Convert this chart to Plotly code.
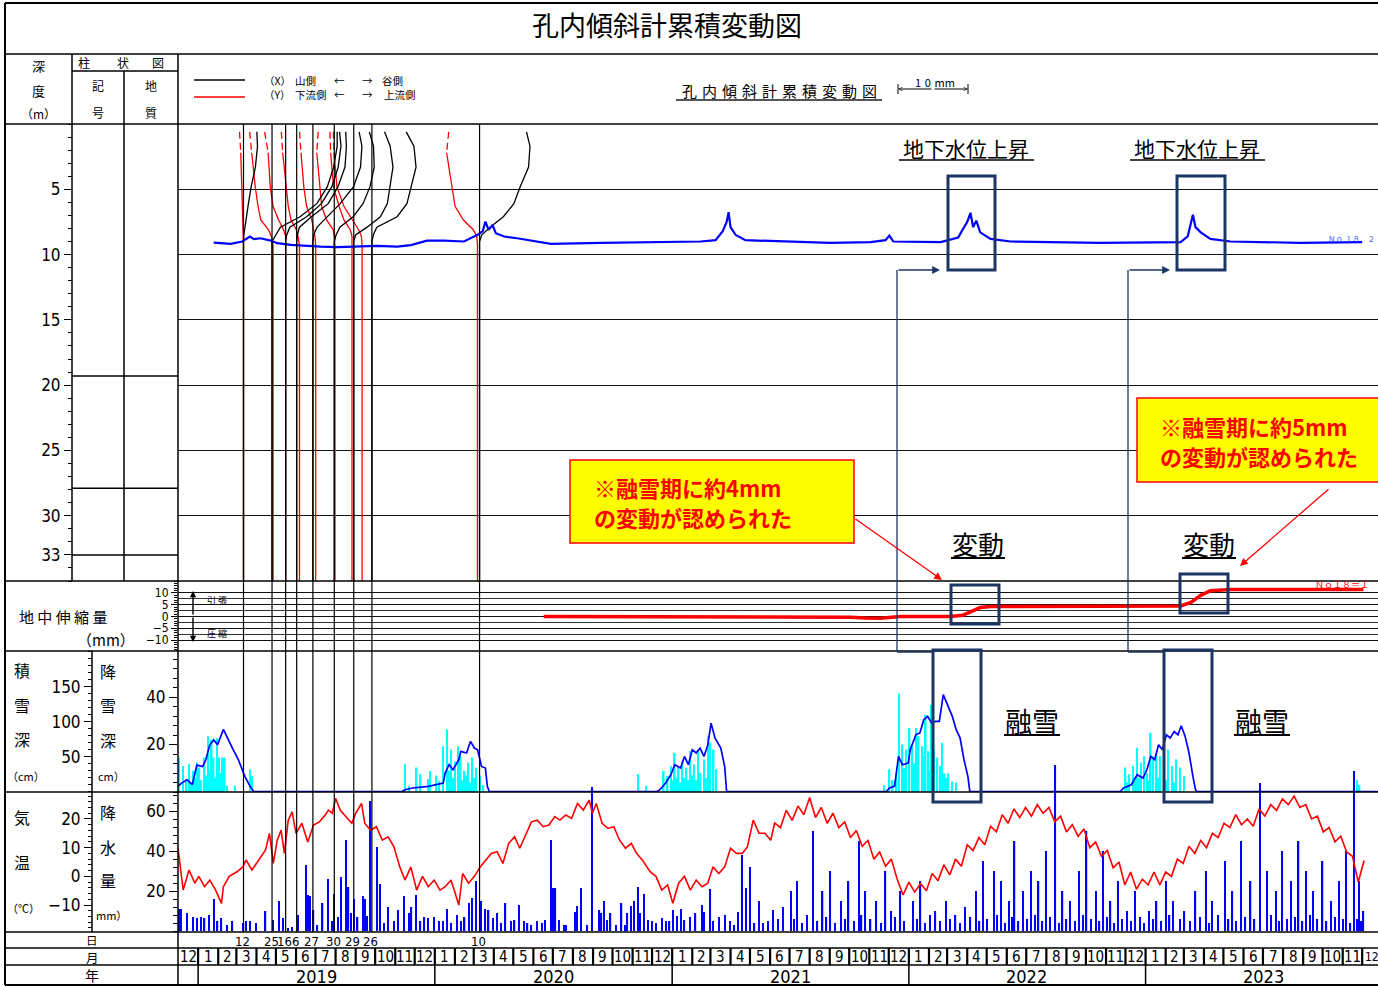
import pandas as pd
import plotly.graph_objects as go

W, H = 1378, 986
JP = "Noto Sans CJK JP"
NUM = "Liberation Sans Narrow, DejaVu Sans Condensed, Arial Narrow, sans-serif"
NAVY = "#1c3565"
BASE = pd.Timestamp("2018-12-01")
X_SPAN_DAYS = 1850.4
DAYS_PER_MM = 10.8  # inclinometer scale: 10 mm bar = 108 days of the time axis

# ---------------- inclinometer measurements ----------------
MEAS_DATES = ["2019-03-12", "2019-04-25", "2019-05-16", "2019-06-02", "2019-06-27",
              "2019-07-30", "2019-08-29", "2019-09-26", "2020-03-10"]
MEAS_DAY_LABELS = ["12", "25", "16", "6", "27", "30", "29", "26", "10"]

X_DEPTH = [0.6, 1.7, 3.3, 4.8, 6.1, 7.1, 7.9, 8.5, 9.0, 35.0]
X_DISP = [
    [1.9, 2.0, 1.7, 1.1, 0.7, 0.4, 0.15, 0.05, 0, 0],
    [9.3, 9.3, 8.8, 7.9, 6.4, 4.0, 1.2, 0.5, 0, 0],
    [7.7, 7.9, 7.5, 6.6, 5.1, 3.0, 0.6, 0.15, 0, 0],
    [7.0, 7.1, 6.9, 5.9, 4.5, 2.1, 0.4, 0.1, 0, 0],
    [6.6, 7.0, 6.8, 5.8, 3.9, 2.0, 0.6, 0.1, 0, 0],
    [5.0, 5.6, 5.7, 5.1, 4.1, 2.7, 0.8, 0.25, 0, 0],
    [4.4, 5.2, 5.6, 5.2, 4.8, 3.8, 1.9, 0.25, 0, 0],
    [4.9, 6.0, 6.3, 5.6, 5.0, 3.6, 0.7, 0.2, 0, 0],
    [6.7, 7.2, 7.0, 5.8, 4.9, 3.4, 1.5, 0.3, 0, 0],
]
Y_DEPTH = [0.6, 2.2, 4.8, 6.3, 7.35, 8.1, 8.6, 9.3, 35.0]
Y_DISP = [
    [-0.57, -0.39, -0.24, -0.14, -0.1, -0.04, 0, 0, 0],
    [-3.2, -2.9, -2.4, -2.0, -1.6, -0.5, -0.1, 0.15, 0.15],
    [-3.0, -2.5, -2.2, -1.8, -1.0, -0.3, 0, 0, 0],
    [-2.2, -2.0, -1.5, -1.2, -0.8, -0.05, 0.2, 0.4, 0.4],
    [-1.9, -1.7, -1.3, -0.9, -0.15, 0.1, 0.3, 0.4, 0.4],
    [-2.3, -2.5, -2.0, -1.8, -1.1, -0.15, 0, 0.1, 0.1],
    [-3.4, -3.3, -2.9, -2.1, -1.4, -0.5, -0.25, -0.25, -0.25],
    [-5.5, -5.4, -5.0, -4.0, -2.8, -1.9, -1.5, -1.4, -1.4],
    [-4.4, -4.7, -4.0, -3.5, -2.3, -0.9, -0.4, -0.3, -0.3],
]
Y_DASH_NODES = 2  # upper part of each Y profile is dashed

GRID_DEPTHS = [5, 10, 15, 20, 25, 30]
DEPTH_TICKS = [5, 10, 15, 20, 25, 30, 33]
LAYER_BOUNDS = [19.3, 27.9, 33.0]

# ---------------- groundwater level (depth m), days since 2018-12-01 ----------------
GW_DAY = [55, 81, 99, 111, 117, 127, 143, 153, 174, 194,
          220, 246, 276, 307, 338, 359, 384, 410, 441, 462,
          470, 474, 479, 485, 490, 503, 523, 554, 575, 652,
          729, 806, 829, 840, 846, 849, 852, 860, 875, 929,
          1006, 1068, 1091, 1097, 1103, 1176, 1203, 1211, 1217, 1222,
          1226, 1231, 1237, 1253, 1284, 1422, 1546, 1557, 1562, 1565,
          1569, 1577, 1592, 1623, 1731, 1792, 1826]
GW_DEPTH = [9.08, 9.18, 9.0, 8.62, 8.82, 8.75, 8.93, 9.13, 9.26, 9.33,
            9.39, 9.43, 9.39, 9.33, 9.39, 9.28, 8.93, 8.93, 9.0, 8.49,
            8.2, 7.47, 8.11, 7.73, 8.36, 8.62, 8.75, 9.0, 9.18, 9.1,
            9.05, 9.0, 8.9, 8.2, 7.5, 6.75, 7.9, 8.5, 8.9, 9.0,
            9.1, 9.05, 8.9, 8.55, 9.0, 9.05, 8.7, 8.0, 7.5, 6.8,
            7.9, 7.4, 8.3, 8.8, 9.0, 9.1, 9.05, 8.6, 7.6, 6.95,
            7.9, 8.3, 8.8, 9.0, 9.1, 9.1, 9.05]

# ---------------- ground extensometer (mm) ----------------
EXT_DAY = [564, 700, 850, 1000, 1037, 1060, 1083, 1114, 1191, 1210,
           1222, 1237, 1253, 1422, 1546, 1562, 1577, 1592, 1623, 1828]
EXT_MM = [0, 0, 0, 0, -0.3, -0.6, -0.7, 0, 0, 0.5,
          2, 3.8, 4.2, 4.3, 4.5, 6, 9, 11, 11.5, 11.5]

# ---------------- snow depth (cm) ----------------
SD_DAY = [0, 5, 14, 22, 29, 38, 43, 49, 55, 61, 70, 76, 85, 93, 100, 103, 111, 117,
          345, 350, 362, 386, 409, 412, 418, 424, 433, 436, 445, 451, 457, 462, 468, 474, 477, 480,
          738, 743, 752, 760, 766, 775, 781, 787, 793, 799, 805, 811, 817, 822, 828, 837, 843, 846,
          1092, 1097, 1105, 1111, 1117, 1126, 1129, 1138, 1144, 1150, 1156, 1162, 1168, 1174, 1180,
          1188, 1194, 1200, 1206, 1212, 1218, 1221,
          1453, 1458, 1470, 1479, 1488, 1494, 1500, 1506, 1512, 1518, 1524, 1530, 1536, 1542, 1547,
          1553, 1559, 1565, 1569, 1571, 1850]
SD_CM = [7.6, 12, 17, 10, 38, 36, 46, 67, 74, 67, 89, 77, 60, 46, 27, 22, 8, 0,
         0, 2.9, 5.3, 7.6, 12.4, 26.7, 38.6, 31.4, 45.7, 57.6, 55.3, 71.9, 62.4, 60, 36.1, 33.9, 7.6, 0,
         0, 2.9, 12.4, 24.3, 38.6, 33.9, 50.4, 38.6, 60, 55.3, 62.4, 50.4, 67, 98, 76.7, 62.4, 36, 0,
         0, 5.3, 8, 50.4, 38.6, 41, 60, 81.4, 83.9, 102.9, 107.6, 98.1, 100.4, 100.4, 138.6,
         119.6, 107.6, 88.6, 76.7, 45.7, 21.9, 0,
         0, 5.3, 10, 24.3, 19.6, 31.4, 50.4, 45.7, 67, 60, 81.4, 76.7, 86, 81.4, 94.3,
         79, 55.3, 21.9, 2.9, 0, 0]

# ---------------- daily snowfall (cm) ----------------
SF_DAY = [2, 8, 13, 17, 20, 23, 26, 29, 33, 36,
          41, 44, 46, 50, 52, 55, 58, 60, 63, 65,
          68, 70, 72, 76, 88, 111, 114,
          350, 356, 368, 374, 386, 389, 398, 403, 409, 415,
          418, 421, 424, 427, 432, 436, 439, 442, 445, 448,
          451, 454, 457, 460, 466, 471,
          710, 722, 749, 755, 760, 763, 766, 769, 772, 775,
          778, 781, 784, 787, 790, 793, 796, 799, 802, 806,
          811, 814, 817, 821, 826, 830,
          1089, 1097, 1102, 1108, 1112, 1117, 1120, 1123, 1128, 1132,
          1135, 1138, 1142, 1147, 1150, 1153, 1157, 1160, 1162, 1166,
          1171, 1175, 1178, 1182, 1185, 1188, 1194, 1200,
          1461, 1464, 1467, 1473, 1476, 1479, 1482, 1485, 1490, 1494,
          1497, 1500, 1504, 1509, 1512, 1515, 1521, 1524, 1527, 1533,
          1536, 1539, 1545, 1551, 1818, 1822]
SF_CM = [14.5, 11, 5.4, 11.7, 4, 8.9, 6, 12.4, 10.3, 5,
         14.5, 7, 23.5, 9, 22, 14.5, 6, 22.8, 14.5, 8,
         14.5, 5, 14.5, 2.6, 2.6, 9.6, 6.8,
         11.7, 2.6, 10.3, 7.5, 5.4, 8.8, 7, 4.6, 19.3, 26.3,
         9, 17.9, 6, 13, 19.3, 15.1, 5, 8.9, 7, 12.4,
         4, 14.5, 6, 10.3, 6.8, 3,
         7.5, 2.6, 8.8, 6.8, 11, 5, 16.5, 6, 11, 4,
         13, 6, 10.3, 5, 17.2, 7, 11.7, 5, 17.9, 8,
         13.8, 6, 23.5, 20.8, 17.9, 9.6,
         3, 9.6, 5, 7.9, 41.5, 20, 10, 17.9, 27, 19.3,
         12, 27, 23.5, 19.3, 15, 32.5, 17.2, 9, 36.7, 17.9,
         14.5, 11, 20.8, 7.9, 6, 7.9, 4.4, 4,
         10.3, 4, 7.5, 11, 5, 18.6, 6, 12.4, 15.1, 7.9,
         5, 24.9, 15.1, 15.8, 6, 15.1, 11.7, 5, 17.9, 11,
         4, 13.8, 10.3, 6.8, 5, 3]

# ---------------- daily precipitation (mm) ----------------
PR_DAY = [2, 5, 14, 23, 29, 35, 41, 48, 55, 61,
          67, 76, 84, 101, 105, 111, 120, 135, 147, 156,
          162, 170, 176, 185, 197, 200, 203, 209, 215, 223,
          231, 237, 241, 247, 251, 259, 263, 267, 271, 277,
          285, 288, 291, 297, 307, 311, 318, 324, 333, 339,
          349, 356, 360, 367, 374, 380, 386, 395, 403, 409,
          415, 421, 430, 436, 442, 449, 454, 460, 467, 474,
          479, 486, 492, 498, 505, 513, 519, 526, 533, 539,
          545, 554, 561, 566, 575, 578, 582, 588, 595, 598,
          612, 615, 622, 631, 638, 650, 653, 657, 661, 667,
          675, 684, 690, 693, 699, 703, 709, 713, 719, 725,
          731, 737, 746, 752, 758, 763, 769, 776, 781, 790,
          798, 808, 811, 821, 825, 834, 843, 851, 858, 864,
          870, 876, 882, 889, 896, 902, 910, 917, 925, 933,
          945, 950, 955, 962, 970, 979, 986, 994, 1000, 1006,
          1013, 1022, 1028, 1034, 1042, 1050, 1054, 1060, 1068, 1077,
          1084, 1091, 1099, 1106, 1114, 1120, 1133, 1139, 1145, 1152,
          1160, 1168, 1175, 1184, 1190, 1199, 1206, 1214, 1222, 1230,
          1236, 1241, 1248, 1258, 1263, 1269, 1275, 1281, 1286, 1290,
          1296, 1303, 1309, 1315, 1321, 1327, 1333, 1339, 1345, 1353,
          1358, 1364, 1370, 1376, 1383, 1389, 1395, 1401, 1408, 1416,
          1421, 1426, 1432, 1438, 1444, 1450, 1456, 1463, 1470, 1476,
          1484, 1490, 1497, 1503, 1509, 1516, 1523, 1529, 1534, 1545,
          1552, 1560, 1569, 1576, 1585, 1590, 1595, 1604, 1614, 1620,
          1626, 1632, 1639, 1646, 1654, 1660, 1669, 1679, 1686, 1693,
          1698, 1703, 1710, 1716, 1722, 1728, 1734, 1739, 1745, 1750,
          1757, 1765, 1771, 1778, 1784, 1790, 1796, 1801, 1808, 1813,
          1818, 1821, 1825, 1828]
PR_MM = [11, 11, 9, 7, 6.5, 7, 6.5, 8, 16, 5,
         6.5, 3, 5, 4, 5, 5, 4, 10, 5.5, 15,
         6.5, 1.5, 2, 8, 33, 18, 17.5, 10.5, 3, 14,
         26, 5, 18.5, 7, 27, 45.5, 22, 9, 16, 7,
         17.5, 16, 7.5, 65, 42, 23.5, 4, 12, 5, 10.5,
         17.5, 9, 12, 18, 5, 7, 6.5, 7, 5, 5,
         11, 4, 8, 5, 7, 14, 16.5, 25, 15, 11,
         10.5, 6.5, 9, 4, 14, 5, 5.5, 13, 5, 4,
         3, 5, 4, 5.5, 45.5, 21.5, 21.5, 5.5, 3, 3,
         9.5, 12.5, 21.5, 3, 72, 10.5, 9, 15, 5.5, 9,
         3, 14, 3, 9, 12.5, 15, 22, 9, 18.5, 5.5,
         5, 4, 6.5, 5, 5, 10.5, 7.5, 11, 5.5, 7,
         9, 13, 9.5, 21, 5, 7, 8, 5, 3, 9.5,
         38, 21.5, 32, 4, 15, 4, 5, 10.5, 6, 12,
         20, 6, 25, 4, 8, 50, 5, 20, 7, 30,
         4, 15, 6, 25, 5, 45, 8, 20, 6, 15,
         4, 30, 10, 7, 20, 5, 15, 6, 25, 4,
         8, 10, 5, 15, 6, 8, 4, 12, 7, 20,
         5, 35, 6, 30, 8, 25, 4, 15, 7, 45,
         5, 20, 6, 30, 8, 25, 5, 40, 7, 83,
         4, 20, 6, 15, 5, 30, 8, 50, 6, 20,
         5, 40, 7, 15, 4, 25, 6, 10, 5, 20,
         7, 4, 10, 6, 15, 5, 25, 8, 15, 6,
         10, 5, 20, 7, 30, 4, 15, 8, 35, 6,
         20, 5, 45, 7, 25, 6, 74, 30, 8, 20,
         5, 40, 6, 25, 7, 45, 5, 30, 8, 20,
         6, 35, 5, 15, 7, 25, 6, 40, 4, 80,
         6, 25, 5, 10]

# ---------------- air temperature (deg C) ----------------
TEMP_DAY = [0, 8, 17, 26, 32, 41, 49, 58, 67, 70,
            79, 91, 100, 105, 114, 123, 135, 141, 147, 153,
            159, 164, 170, 176, 182, 191, 200, 209, 218, 227,
            232, 238, 243, 250, 259, 268, 274, 283, 288, 297,
            306, 315, 324, 333, 342, 350, 359, 368, 377, 386,
            395, 404, 412, 421, 433, 439, 448, 457, 466, 474,
            483, 492, 501, 510, 519, 527, 536, 545, 554, 563,
            572, 581, 589, 598, 607, 616, 625, 634, 639, 645,
            654, 663, 672, 681, 690, 699, 707, 716, 728, 737,
            746, 755, 763, 772, 781, 790, 799, 808, 817, 825,
            834, 843, 852, 861, 870, 878, 887, 896, 905, 914,
            920, 929, 938, 947, 956, 965, 974, 983, 992, 1001,
            1010, 1019, 1028, 1037, 1046, 1055, 1064, 1073, 1082, 1091,
            1100, 1109, 1118, 1127, 1136, 1145, 1154, 1163, 1172, 1181,
            1190, 1199, 1208, 1217, 1226, 1235, 1244, 1253, 1262, 1271,
            1280, 1289, 1298, 1307, 1316, 1325, 1334, 1343, 1352, 1361,
            1370, 1379, 1388, 1397, 1406, 1415, 1424, 1433, 1442, 1451,
            1460, 1469, 1478, 1487, 1496, 1505, 1514, 1523, 1532, 1541,
            1550, 1559, 1568, 1577, 1586, 1595, 1604, 1613, 1622, 1631,
            1640, 1649, 1658, 1667, 1676, 1685, 1694, 1703, 1712, 1721,
            1730, 1739, 1748, 1757, 1766, 1775, 1784, 1793, 1802, 1811,
            1820, 1829]
TEMP_C = [9.8, -4.8, 2.2, -2.4, 0, -3.6, -1.3, -4.8, -9.4, -3.6,
          0, 1.6, 3.3, 5.7, 2.2, 5.1, 9.2, 15, 4.5, 12.6,
          16.1, 8, 19.6, 22.5, 15, 18.5, 12, 17.9, 19, 21.4,
          23.1, 22, 27.2, 23.1, 20.8, 18.5, 22, 25.4, 18.5, 16.1,
          17.3, 12.6, 13.8, 10.3, 3.3, -1.3, 3.3, -4.8, 0, -3.6,
          -1.3, -4.8, -3.6, -1.3, -10, 1, -2.4, 0, 3.3, 5.7,
          8, 8.6, 4.5, 11.5, 13.8, 9.8, 14.4, 19, 19.6, 17.3,
          17.9, 20.8, 19.6, 21.4, 20.2, 25.4, 23.1, 26.6, 22, 25.4,
          18.5, 16.7, 17.3, 12.6, 9.8, 11.5, 8, 5.7, 1.6, 0,
          -4.8, -3, -9.4, -2.4, 0, -4.8, -1.3, -3.6, -2.4, 3.3,
          1, 3.3, 9.8, 8, 8, 10.3, 19.6, 15, 15, 12.6,
          18.6, 17, 23, 19.5, 24.5, 21.5, 27.5, 20.5, 24, 18.5,
          22, 17, 19, 13.5, 16, 10.5, 12.5, 6, 8.5, 3.5,
          6, -1, -6.5, -2, -5.5, -2.5, -5, 1, -1.5, 4,
          0.5, 6, 3.5, 11, 9, 13.5, 11, 17.5, 15.5, 21.5,
          18.5, 23.5, 20.5, 24, 21, 25, 22, 24, 19, 21,
          15.5, 18, 14, 16.5, 10, 12, 7, 9, 3, 5,
          -3, 1.5, -4.5, -1, -3, 1.5, -3, 1.5, 0, 6,
          4.5, 10.5, 8, 12.5, 10, 15, 13.5, 18.5, 17, 21.5,
          18, 20, 17.5, 23.5, 21, 25, 23, 27, 25, 28,
          24, 25, 20, 21, 15.5, 17, 12, 14, 8.5, 7,
          -2, 5.5]

assert len(GW_DAY) == len(GW_DEPTH)
assert len(SD_DAY) == len(SD_CM)
assert len(SF_DAY) == len(SF_CM)
assert len(PR_DAY) == len(PR_MM)
assert len(EXT_DAY) == len(EXT_MM)
assert len(TEMP_DAY) == len(TEMP_C)


def T(d):
    return BASE + pd.to_timedelta(d, unit="D")


def PX(x):
    return x / W


def PY(y):
    return 1 - y / H


meas_ts = [pd.Timestamp(d) for d in MEAS_DATES]

# ---------- build profile polylines ----------
bx, by = [], []
for t, disp in zip(meas_ts, X_DISP):
    for dep, v in zip(X_DEPTH, disp):
        bx.append(t + pd.to_timedelta(v * DAYS_PER_MM, unit="D"))
        by.append(dep)
    bx.append(None)
    by.append(None)
rsx, rsy, rdx, rdy = [], [], [], []
for t, disp in zip(meas_ts, Y_DISP):
    for i, (dep, v) in enumerate(zip(Y_DEPTH, disp)):
        xv = t + pd.to_timedelta(v * DAYS_PER_MM, unit="D")
        if i < Y_DASH_NODES:
            rdx.append(xv)
            rdy.append(dep)
        if i >= Y_DASH_NODES - 1:
            rsx.append(xv)
            rsy.append(dep)
    rdx.append(None); rdy.append(None)
    rsx.append(None); rsy.append(None)

fig = go.Figure()
fig.add_trace(go.Scatter(x=rsx, y=rsy, mode="lines", line=dict(color="#ff0000", width=1.3),
                         xaxis="x", yaxis="y", hoverinfo="skip"))
fig.add_trace(go.Scatter(x=rdx, y=rdy, mode="lines", line=dict(color="#ff0000", width=1.3, dash="7px,4px"),
                         xaxis="x", yaxis="y", hoverinfo="skip"))
fig.add_trace(go.Scatter(x=bx, y=by, mode="lines", line=dict(color="#000000", width=1.3),
                         xaxis="x", yaxis="y", hoverinfo="skip"))
fig.add_trace(go.Scatter(x=[T(d) for d in GW_DAY], y=GW_DEPTH, mode="lines",
                         line=dict(color="#0000ff", width=2.2), xaxis="x", yaxis="y", hoverinfo="skip"))
fig.add_trace(go.Scatter(x=[], y=[], xaxis="x", yaxis="y2", hoverinfo="skip"))
# extensometer
fig.add_trace(go.Scatter(x=[T(d) for d in EXT_DAY], y=EXT_MM, mode="lines",
                         line=dict(color="#ff0000", width=3.5), xaxis="x", yaxis="y3", hoverinfo="skip"))
fig.add_trace(go.Scatter(x=[], y=[], xaxis="x", yaxis="y9", hoverinfo="skip"))
# snow
DAY_MS = 86400000
fig.add_trace(go.Bar(x=[T(d) for d in SF_DAY], y=SF_CM, width=2.4 * DAY_MS,
                     marker=dict(color="#00ffff", line=dict(width=0)), xaxis="x", yaxis="y4", hoverinfo="skip"))
fig.add_trace(go.Scatter(x=[T(d) for d in SD_DAY], y=SD_CM, mode="lines",
                         line=dict(color="#0000ff", width=1.7), xaxis="x", yaxis="y5", hoverinfo="skip"))
# precipitation & temperature
fig.add_trace(go.Bar(x=[T(d) for d in PR_DAY], y=PR_MM, width=2.0 * DAY_MS,
                     marker=dict(color="#0000ff", line=dict(width=0)), xaxis="x", yaxis="y6", hoverinfo="skip"))
fig.add_trace(go.Scatter(x=[T(d) for d in TEMP_DAY], y=TEMP_C, mode="lines",
                         line=dict(color="#ff0000", width=1.6), xaxis="x", yaxis="y7", hoverinfo="skip"))
fig.add_trace(go.Bar(x=[T(d) for d in PR_DAY], y=PR_MM, width=2.0 * DAY_MS,
                     marker=dict(color="#0000ff", line=dict(width=0)), xaxis="x", yaxis="y8", hoverinfo="skip"))

# ---------------- shapes ----------------
shapes = []


def seg(x0, y0, x1, y1, w=1.5, color="#000", dash=None):
    ln = dict(color=color, width=w)
    if dash:
        ln["dash"] = dash
    shapes.append(dict(type="line", xref="paper", yref="paper", x0=PX(x0), y0=PY(y0), x1=PX(x1), y1=PY(y1),
                       line=ln, layer="above"))


def box(x0, y0, x1, y1, color, w, fill=None):
    shapes.append(dict(type="rect", xref="paper", yref="paper", x0=PX(x0), y0=PY(y0), x1=PX(x1), y1=PY(y1),
                       line=dict(color=color, width=w), fillcolor=fill or "rgba(0,0,0,0)", layer="above"))


# table frame
seg(5, 3, 1378, 3, 2)
seg(5, 3, 5, 985, 2)
for yy in [54, 124, 581, 651, 792, 932, 948, 965]:
    seg(5, yy, 1378, yy, 1.5)
seg(5, 985, 1378, 985, 2)
seg(72, 54, 72, 581, 1.5)
seg(124, 71, 124, 581, 1.5)
seg(178, 54, 178, 985, 1.5)
seg(72, 71, 178, 71, 1.5)
seg(92, 651, 92, 932, 1.5)
for dep in LAYER_BOUNDS:
    shapes.append(dict(type="line", xref="paper", yref="y", x0=PX(72), x1=PX(178), y0=dep, y1=dep,
                       line=dict(color="#000", width=1.5)))

# measurement date lines
for t in meas_ts:
    shapes.append(dict(type="line", xref="x", yref="paper", x0=t, x1=t, y0=PY(932), y1=PY(124),
                       line=dict(color="#000", width=1.2), layer="above"))

# month / year rows
for m in pd.date_range("2019-01-01", "2023-12-01", freq="MS"):
    shapes.append(dict(type="line", xref="x", yref="paper", x0=m, x1=m, y0=PY(965), y1=PY(948),
                       line=dict(color="#000", width=2.2)))
for yv in pd.date_range("2019-01-01", "2023-01-01", freq="YS"):
    shapes.append(dict(type="line", xref="x", yref="paper", x0=yv, x1=yv, y0=PY(985), y1=PY(965),
                       line=dict(color="#000", width=1.5)))

# legend lines & scale bar ends
seg(194, 80, 245, 80, 1.5, "#000")
seg(194, 97, 245, 97, 1.5, "#ff0000")
seg(676, 100, 882, 100, 2, "#555")
seg(898, 84, 898, 94, 1, "#000")
seg(968, 84, 968, 94, 1, "#000")

# navy highlight boxes and connectors
for b in [(948, 176, 995, 270), (1177, 176, 1225, 270), (951, 585, 999, 624),
          (1180, 574, 1228, 613), (933, 650, 981, 802), (1164, 650, 1212, 802)]:
    box(*b, NAVY, 3)
seg(933, 652, 897, 652, 1.3, NAVY)
seg(897, 652, 897, 270, 1.3, NAVY)
seg(1164, 652, 1128, 652, 1.3, NAVY)
seg(1128, 652, 1128, 270, 1.3, NAVY)

# yellow note boxes
box(570, 460, 854, 543, "#ff0000", 1.5, "#ffff00")
box(1137, 398, 1400, 482, "#ff0000", 1.5, "#ffff00")

# underlines
for (x0, x1, yy, w) in [(899, 1034, 160, 1.5), (1130, 1265, 160, 1.5),
                        (951, 1005, 558, 1.8), (1182, 1236, 558, 1.8),
                        (1004, 1060, 735, 1.8), (1234, 1290, 735, 1.8)]:
    seg(x0, yy, x1, yy, w, "#000")

# ---------------- annotations ----------------
annots = []


def txt(x, y, s, size=14, color="#000", family=JP, xanchor="center", yanchor="middle"):
    annots.append(dict(xref="paper", yref="paper", x=PX(x), y=PY(y), text=s,
                       showarrow=False, font=dict(family=family, size=size, color=color),
                       xanchor=xanchor, yanchor=yanchor))


def arrow(hx, hy, tx, ty, color, w=1.3, head=2, size=1.0):
    annots.append(dict(xref="paper", yref="paper", x=PX(hx), y=PY(hy), ax=tx - hx, ay=ty - hy,
                       axref="pixel", ayref="pixel", text="", showarrow=True, arrowhead=head,
                       arrowsize=size, arrowwidth=w, arrowcolor=color, standoff=0))


txt(667, 25, "孔内傾斜計累積変動図", 27)
# header cells
txt(38, 66, "深", 13)
txt(38, 90, "度", 13)
txt(38, 113, "（m）", 12)
txt(84, 62, "柱", 12)
txt(123, 62, "状", 12)
txt(158, 62, "図", 12)
txt(98, 86, "記", 12)
txt(98, 112, "号", 12)
txt(151, 86, "地", 12)
txt(151, 112, "質", 12)
# legend
for (xx, s) in [(262, "（X）"), (293, "山側"), (332, "←"), (360, "→"), (380, "谷側")]:
    txt(xx, 80, s, 10.5, xanchor="left")
for (xx, s) in [(262, "（Y）"), (293, "下流側"), (332, "←"), (360, "→"), (382, "上流側")]:
    txt(xx, 94, s, 10.5, xanchor="left")
txt(779, 90, "\u2004".join("孔内傾斜計累積変動図"), 15)
txt(935, 82, "1\u20040\u2004mm", 11)
arrow(898, 89, 933, 89, "#000", 1, 5, 0.7)
arrow(968, 89, 933, 89, "#000", 1, 5, 0.7)

# left labels lower panels
txt(17, 616, "地 中 伸 縮 量", 15, xanchor="left")
txt(106, 639, "（mm）", 15)
arrow(193, 591, 193, 616, "#000", 1.4, 2, 0.9)
arrow(193, 642, 193, 616, "#000", 1.4, 2, 0.9)
txt(217, 600, "引 張", 9)
txt(217, 633, "圧 縮", 9)
for (yy, s) in [(670, "積"), (705, "雪"), (739, "深")]:
    txt(22, yy, s, 16)
txt(26, 776, "（cm）", 11)
for (yy, s) in [(671, "降"), (705, "雪"), (740, "深")]:
    txt(108, yy, s, 16)
txt(111, 776, "cm）", 11)
txt(22, 817, "気", 16)
txt(22, 862, "温", 16)
txt(23, 908, "（℃）", 11)
for (yy, s) in [(812, "降"), (847, "水"), (880, "量")]:
    txt(108, yy, s, 16)
txt(111, 915, "mm）", 11)

# bottom rows
txt(92, 940, "日", 11.5)
txt(92, 957, "月", 12.5)
txt(92, 975, "年", 14)
for t, lab in zip(meas_ts, MEAS_DAY_LABELS):
    annots.append(dict(xref="x", yref="paper", x=t, y=PY(941), text=lab, showarrow=False, xshift=-1,
                       font=dict(family=NUM, size=13, color="#000"), xanchor="center", yanchor="middle"))
x_end = BASE + pd.Timedelta(days=X_SPAN_DAYS)
for m in pd.date_range("2018-12-01", "2023-12-01", freq="MS"):
    mid = m + pd.Timedelta(days=m.days_in_month / 2)
    if mid + pd.Timedelta(days=12) > x_end:   # last cell is cut by the frame edge
        annots.append(dict(xref="x", yref="paper", x=m, y=PY(957), text=str(m.month), showarrow=False,
                           xshift=0.5, font=dict(family=NUM, size=12, color="#000"),
                           xanchor="left", yanchor="middle"))
        continue
    annots.append(dict(xref="x", yref="paper", x=mid, y=PY(957), text=str(m.month), showarrow=False,
                       font=dict(family=NUM, size=15, color="#000"), xanchor="center", yanchor="middle"))
for yv in range(2019, 2024):
    annots.append(dict(xref="x", yref="paper", x=pd.Timestamp(f"{yv}-07-02"), y=PY(976), text=str(yv),
                       showarrow=False, font=dict(family=NUM, size=18, color="#000"),
                       xanchor="center", yanchor="middle"))

# callouts
txt(966, 148, "地下水位上昇", 21)
txt(1197, 148, "地下水位上昇", 21)
txt(978, 543, "変動", 26)
txt(1209, 543, "変動", 26)
txt(1032, 720, "融雪", 27)
txt(1262, 720, "融雪", 27)
arrow(940, 270, 897, 270, NAVY, 1.3, 2, 1.2)
arrow(1170, 270, 1128, 270, NAVY, 1.3, 2, 1.2)
arrow(942, 580, 854, 518, "#ff0000", 1.3, 2, 1.2)
arrow(1240, 566, 1330, 488, "#ff0000", 1.3, 2, 1.2)
txt(592, 487, "<b>※融雪期に約4mm</b>", 22, "#ff0000", xanchor="left")
txt(592, 517, "<b>の変動が認められた</b>", 22, "#ff0000", xanchor="left")
txt(1158, 426, "<b>※融雪期に約5mm</b>", 22, "#ff0000", xanchor="left")
txt(1158, 456, "<b>の変動が認められた</b>", 22, "#ff0000", xanchor="left")
txt(1326, 239, "Ｎｏ.１８　２", 7.5, "#3050ff", xanchor="left")
txt(1313, 584, "Ｎｏ１８＝１", 9, "#ff0000", xanchor="left")

# ---------------- axes ----------------
tickc = dict(tickcolor="#000", tickwidth=1)
x_range = [BASE, x_end]
layout_axes = dict(
    xaxis=dict(domain=[PX(178), 1.0], range=x_range, type="date", visible=False, anchor="y6"),
    yaxis=dict(domain=[PY(581), PY(124)], range=[35, 0], anchor="x", tickmode="array", tickvals=GRID_DEPTHS,
               showgrid=True, gridcolor="#111", gridwidth=1, showticklabels=False, ticks="", zeroline=False),
    yaxis2=dict(overlaying="y", anchor="free", position=PX(72), side="left", range=[35, 0], tickmode="array",
                tickvals=DEPTH_TICKS, ticks="outside", ticklen=8, showgrid=False, zeroline=False,
                tickfont=dict(family=NUM, size=17, color="#000"),
                minor=dict(tickmode="linear", tick0=0, dtick=1, ticks="outside", ticklen=4, tickcolor="#000"),
                **tickc),
    yaxis3=dict(domain=[PY(651), PY(581)], anchor="x", range=[-14.68, 15.1], tickmode="array",
                tickvals=[-10, -5, 0, 5, 10], ticktext=["−10", "−5", "0", "5", "10"], ticks="outside",
                ticklen=6, showgrid=True, gridcolor="#111", gridwidth=1, zeroline=False,
                tickfont=dict(family=NUM, size=12, color="#000"),
                minor=dict(tickmode="linear", tick0=0, dtick=1, ticks="outside", ticklen=3, tickcolor="#000"),
                **tickc),
    yaxis9=dict(overlaying="y3", anchor="x", range=[-14.68, 15.1], tickmode="array",
                tickvals=[-7.5, -2.5, 2.5, 7.5], showgrid=True, gridcolor="#333", gridwidth=1,
                showticklabels=False, ticks="", zeroline=False),
    yaxis4=dict(domain=[PY(792), PY(651)], anchor="x", range=[0, 59.4], tickmode="array", tickvals=[20, 40],
                ticks="outside", ticklen=8, showgrid=False, zeroline=False,
                tickfont=dict(family=NUM, size=17, color="#000"),
                minor=dict(tickmode="linear", tick0=0, dtick=4, ticks="outside", ticklen=4, tickcolor="#000"),
                **tickc),
    yaxis5=dict(overlaying="y4", anchor="free", position=PX(92), side="left", range=[-0.4, 201],
                tickmode="array", tickvals=[50, 100, 150], ticks="outside", ticklen=8, showgrid=False,
                zeroline=False, tickfont=dict(family=NUM, size=17, color="#000"),
                minor=dict(tickmode="linear", tick0=0, dtick=10, ticks="outside", ticklen=4, tickcolor="#000"),
                **tickc),
    yaxis6=dict(domain=[PY(932), PY(792)], anchor="x", range=[-0.5, 69.5], tickmode="array",
                tickvals=[20, 40, 60], ticks="outside", ticklen=8, showgrid=False, zeroline=False,
                tickfont=dict(family=NUM, size=17, color="#000"),
                minor=dict(tickmode="linear", tick0=0, dtick=4, ticks="outside", ticklen=4, tickcolor="#000"),
                **tickc),
    yaxis7=dict(overlaying="y6", anchor="free", position=PX(92), side="left", range=[-19.4, 29.4],
                tickmode="array", tickvals=[-10, 0, 10, 20], ticktext=["−10", "0", "10", "20"],
                ticks="outside", ticklen=8, showgrid=False, zeroline=False,
                tickfont=dict(family=NUM, size=17, color="#000"),
                minor=dict(tickmode="linear", tick0=0, dtick=2, ticks="outside", ticklen=4, tickcolor="#000"),
                **tickc),
    yaxis8=dict(domain=[PY(792), PY(651)], anchor="x", range=[69.5, 140], visible=False),
)

fig.update_layout(
    width=W, height=H, margin=dict(l=0, r=0, t=0, b=0),
    paper_bgcolor="#ffffff", plot_bgcolor="rgba(0,0,0,0)",
    showlegend=False, barmode="overlay", hovermode=False,
    shapes=shapes, annotations=annots,
    font=dict(family=JP, color="#000"),
    **layout_axes,
)

fig.write_html("out.html", config={"displayModeBar": False},
               post_script="document.body.style.margin='0';document.body.style.overflow='hidden';")
